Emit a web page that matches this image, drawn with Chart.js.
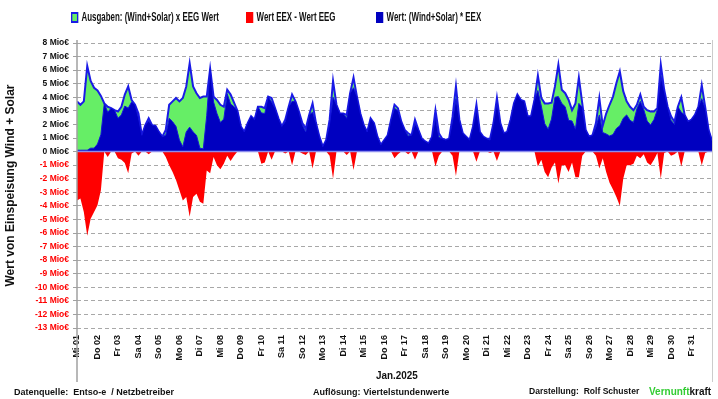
<!DOCTYPE html>
<html lang="de">
<head>
<meta charset="utf-8">
<title>Wert von Einspeisung Wind + Solar - Jan.2025</title>
<script src="https://cdn.jsdelivr.net/npm/chart.js@4.4.1/dist/chart.umd.min.js"></script>
<style>
    html, body { margin: 0; padding: 0; background: #fff; }
    body { width: 718px; height: 399px; position: relative; overflow: hidden;
           font-family: 'Liberation Sans', Arial, sans-serif; font-weight: bold; color: #111; }
    #chartBox { position: absolute; left: 0; top: 0; width: 718px; height: 399px; }
    .txt { position: absolute; white-space: nowrap; transform-origin: 0 50%; }
    .legend { top: 10px; font-size: 12px; transform: scaleX(0.66); display: flex; align-items: center; }
    .legend .box { display: inline-block; width: 11px; height: 11px; margin-right: 5px; box-sizing: border-box; }
    .footer { top: 386px; font-size: 9.5px; transform: scaleX(0.95); }
    .xtitle { top: 369px; left: 376px; font-size: 11px; transform: scaleX(0.9); }
</style>
</head>
<body>
<div id="chartBox"><canvas id="eegChart" width="718" height="399"></canvas></div>

<div class="txt legend" style="left:71px"><span class="box" style="background:#66ee66;border:2px solid #1a1ae6"></span>Ausgaben: (Wind+Solar) x EEG Wert</div>
<div class="txt legend" style="left:246px"><span class="box" style="background:#ff0000"></span>Wert EEX - Wert EEG</div>
<div class="txt legend" style="left:376px"><span class="box" style="background:#0000c0"></span>Wert: (Wind+Solar) * EEX</div>
<div class="txt xtitle">Jan.2025</div>
<div class="txt footer" style="left:14px">Datenquelle:&nbsp; Entso-e &nbsp;/ Netzbetreiber</div>
<div class="txt footer" style="left:313px">Auflösung: Viertelstundenwerte</div>
<div class="txt footer" style="left:529px;font-size:9px">Darstellung:&nbsp; Rolf Schuster</div>
<div class="txt footer" style="left:649px;font-size:10.5px;top:385px"><span style="color:#33cc33">Vernunft</span>kraft</div>

<script>
// --- DATA (Mio €, one value every 4 hours, 01.01. 00:00 - 01.02. 00:00) ---
const SLOTS_PER_DAY = 6;

const tage = ['Mi 01', 'Do 02', 'Fr 03', 'Sa 04', 'So 05', 'Mo 06', 'Di 07', 'Mi 08', 'Do 09', 'Fr 10',
              'Sa 11', 'So 12', 'Mo 13', 'Di 14', 'Mi 15', 'Do 16', 'Fr 17', 'Sa 18', 'So 19', 'Mo 20',
              'Di 21', 'Mi 22', 'Do 23', 'Fr 24', 'Sa 25', 'So 26', 'Mo 27', 'Di 28', 'Mi 29', 'Do 30', 'Fr 31'];

// Ausgaben: (Wind+Solar) x EEG Wert
const eegWert = [
    3.7, 3.45, 3.7, 6.3, 5.2, 4.7,      4.5, 4.1, 3.55, 3.3, 3.2, 3.05,
    2.95, 3.3, 4.2, 4.8, 3.8, 3.45,     2.8, 1.2, 1.95, 2.45, 1.95, 1.9,
    1.45, 1.1, 1.6, 3.45, 3.7, 3.95,    3.7, 3.95, 4.8, 6.5, 4.8, 4.3,
    3.95, 4.05, 4.05, 6.1, 4.05, 3.8,   3.45, 3.3, 4.55, 4.2, 3.6, 3.0,
    1.85, 1.45, 2.1, 2.6, 2.35, 3.3,    3.3, 3.2, 4.05, 3.95, 3.2, 2.45,
    1.85, 2.35, 3.3, 4.2, 3.7, 2.95,    2.1, 1.7, 2.7, 3.55, 2.1, 1.1,
    0.36, 0.85, 2.35, 5.2, 3.45, 2.8,   2.8, 2.7, 4.3, 5.45, 4.05, 2.8,
    1.95, 1.45, 2.45, 2.1, 1.1, 0.5,    0.85, 1.2, 2.35, 3.45, 3.2, 2.2,
    1.6, 1.35, 1.2, 2.35, 1.6, 0.95,    0.75, 0.6, 1.1, 3.05, 1.35, 0.95,
    0.85, 0.95, 2.55, 4.8, 2.35, 1.35,  1.1, 0.85, 1.85, 3.45, 1.45, 1.1,
    0.95, 0.95, 2.1, 3.95, 2.1, 1.35,   1.45, 2.35, 3.55, 4.2, 3.8, 3.7,
    2.6, 2.6, 3.8, 5.6, 3.95, 3.55,     3.55, 3.6, 4.8, 6.4, 4.55, 4.3,
    3.8, 3.05, 3.55, 5.45, 3.55, 1.6,   1.1, 1.2, 2.1, 3.95, 1.9, 2.8,
    3.45, 4.05, 5.05, 5.9, 4.45, 3.7,   3.3, 3.05, 3.45, 4.2, 3.3, 3.05,
    2.95, 2.95, 3.2, 6.4, 4.55, 3.3,    2.6, 2.2, 3.3, 4.0, 2.7, 2.2,
    2.35, 2.7, 3.3, 4.9, 3.3, 1.6,      0.8
];

// Wert: (Wind+Solar) * EEX
const marktWert = [
    0.1, 0.1, 0.1, 0.1, 0.25, 0.25,     0.55, 1.25, 3.55, 2.9, 3.2, 3.05,
    2.45, 2.7, 3.35, 3.2, 3.65, 3.45,   2.5, 1.2, 1.95, 2.25, 1.95, 1.9,
    1.45, 1.1, 1.2, 2.45, 2.2, 1.85,    0.85, 0.35, 1.45, 1.8, 1.45, 1.2,
    0.25, 0.2, 2.65, 6.1, 3.65, 2.8,    2.15, 2.4, 4.25, 3.5, 3.3, 3.0,
    1.85, 1.45, 2.1, 2.6, 2.35, 3.3,    2.85, 2.8, 4.05, 3.65, 3.2, 2.45,
    1.85, 2.2, 3.3, 3.7, 3.7, 2.95,     1.95, 1.45, 2.7, 2.9, 2.1, 1.1,
    0.36, 0.85, 2.05, 4.0, 3.45, 2.8,   2.8, 2.45, 4.3, 4.7, 4.05, 2.8,
    1.95, 1.45, 2.45, 2.1, 1.1, 0.5,    0.85, 1.2, 2.35, 3.2, 3.0, 2.2,
    1.6, 1.15, 1.2, 2.05, 1.6, 0.95,    0.75, 0.6, 1.1, 2.5, 1.05, 0.95,
    0.85, 0.95, 2.25, 3.9, 2.35, 1.35,  1.1, 0.85, 1.85, 3.1, 1.45, 1.1,
    0.95, 0.85, 2.1, 3.6, 2.1, 1.35,    1.45, 2.35, 3.55, 4.2, 3.8, 3.7,
    2.6, 2.6, 3.8, 4.5, 3.35, 2.05,     1.65, 2.4, 4.0, 4.05, 3.55, 3.3,
    2.3, 2.25, 1.65, 3.55, 3.25, 1.6,   1.1, 1.2, 1.8, 2.7, 1.4, 1.3,
    1.15, 1.25, 1.7, 1.9, 2.45, 2.7,    2.3, 2.15, 3.15, 3.7, 3.1, 2.25,
    1.95, 2.35, 3.1, 5.6, 4.45, 3.3,    2.3, 2.0, 3.3, 2.9, 2.7, 2.2,
    2.35, 2.7, 3.3, 3.9, 3.2, 1.6,      0.8
];

// Wert EEX - Wert EEG (nur negative Anteile)
const differenz = [
    -3.6, -3.45, -4.45, -6.2, -4.95, -4.45,  -3.95, -2.85, 0, -0.4, 0, 0,
    -0.5, -0.6, -0.85, -1.6, -0.15, 0,       -0.3, 0, 0, -0.2, 0, 0,
    0, 0, -0.4, -1.0, -1.5, -2.1,            -2.85, -3.6, -3.35, -4.8, -3.35, -3.1,
    -3.7, -3.85, -1.4, -1.6, -0.4, -1.0,     -1.3, -0.9, -0.3, -0.7, -0.3, 0,
    0, 0, 0, 0, 0, 0,                        -0.9, -0.8, 0, -0.6, 0, 0,
    0, -0.15, 0, -1.0, 0, 0,                 -0.15, -0.25, 0, -1.25, 0, 0,
    0, 0, -0.3, -2.0, 0, 0,                  0, -0.25, 0, -1.35, 0, 0,
    0, 0, 0, 0, 0, 0,                        0, 0, 0, -0.5, -0.2, 0,
    0, -0.2, 0, -0.6, 0, 0,                  0, 0, 0, -1.1, -0.3, 0,
    0, 0, -0.3, -1.8, 0, 0,                  0, 0, 0, -0.75, 0, 0,
    0, -0.1, 0, -0.7, 0, 0,                  0, 0, 0, 0, 0, 0,
    0, 0, 0, -1.1, -0.6, -1.5,               -1.9, -1.2, -0.8, -2.35, -1.0, -1.0,
    -1.5, -0.8, -1.9, -1.9, -0.3, 0,         0, 0, -0.3, -1.25, -0.5, -1.5,
    -2.3, -2.8, -3.35, -4.0, -2.0, -1.0,     -1.0, -0.9, -0.3, -0.5, -0.2, -0.8,
    -1.0, -0.6, -0.1, -2.0, -0.1, 0,         -0.3, -0.2, 0, -1.1, 0, 0,
    0, 0, 0, -1.0, -0.1, 0,                  0
];

const yTicks = { min: -13, max: 8, step: 1 };

// --- HELPERS ---
const FONT = "'Liberation Sans', Arial, sans-serif";
const toPoints = arr => arr.map((v, i) => ({ x: i / SLOTS_PER_DAY, y: v }));

// axis lines run down through the label area, plus the light zero line
const axisLines = {
    id: 'axisLines',
    afterDatasetsDraw(chart) {
        const { ctx, chartArea, scales } = chart;
        const y0 = scales.y.getPixelForValue(0);
        ctx.save();
        ctx.strokeStyle = '#8c8cee';
        ctx.lineWidth = 1.5;
        ctx.beginPath(); ctx.moveTo(chartArea.left, y0); ctx.lineTo(chartArea.right, y0); ctx.stroke();
        ctx.strokeStyle = '#a0a0a0';
        ctx.lineWidth = 1.5;
        ctx.beginPath(); ctx.moveTo(chartArea.left, chartArea.top - 3); ctx.lineTo(chartArea.left, 382); ctx.stroke();
        ctx.strokeStyle = '#cccccc';
        ctx.lineWidth = 1;
        ctx.beginPath(); ctx.moveTo(chartArea.right + 0.5, chartArea.top - 3); ctx.lineTo(chartArea.right + 0.5, 382); ctx.stroke();
        ctx.restore();
    }
};

// --- CHART ---
const eegChart = new Chart(document.getElementById('eegChart'), {
    type: 'line',
    data: {
        datasets: [
            {
                label: 'Wert: (Wind+Solar) * EEX',
                data: toPoints(marktWert),
                backgroundColor: '#0000c0',
                borderColor: '#1414dc',
                borderWidth: 1,
                fill: 'origin',
                order: 1,
            },
            {
                label: 'Ausgaben: (Wind+Solar) x EEG Wert',
                data: toPoints(eegWert),
                backgroundColor: '#66ee66',
                borderColor: '#1a1ae6',
                borderWidth: 2,
                fill: 'origin',
                order: 2,
            },
            {
                label: 'Wert EEX - Wert EEG',
                data: toPoints(differenz),
                backgroundColor: '#ff0000',
                borderColor: '#ff0000',
                borderWidth: 0,
                fill: 'origin',
                order: 3,
            },
        ],
    },
    options: {
        responsive: false,
        animation: false,
        events: [],
        elements: { point: { radius: 0 }, line: { tension: 0 } },
        layout: { padding: { left: 0, right: 6, top: 43, bottom: 0 } },
        plugins: { legend: { display: false }, tooltip: { enabled: false } },
        scales: {
            x: {
                type: 'linear',
                min: 0,
                max: tage.length,
                grid: { display: false, drawTicks: false },
                border: { display: false },
                ticks: {
                    stepSize: 1,
                    autoSkip: false,
                    maxRotation: 90,
                    minRotation: 90,
                    padding: 7,
                    color: '#111',
                    font: { family: FONT, size: 9, weight: 'bold' },
                    callback: v => tage[v] ?? '',
                },
                afterFit(scale) {
                    scale.height = 71;
                    scale.paddingLeft = 0;
                    scale.paddingRight = 0;
                },
            },
            y: {
                min: yTicks.min,
                max: yTicks.max,
                grid: { color: '#a8a8a8', lineWidth: 1, tickLength: 4, tickColor: '#a0a0a0' },
                border: { display: false, dash: [4, 3] },
                ticks: {
                    stepSize: yTicks.step,
                    autoSkip: false,
                    padding: 4,
                    color: ctx => ctx.tick.value < 0 ? '#ff0000' : '#111',
                    font: { family: FONT, size: 8.5, weight: 'bold' },
                    callback: v => `${v} Mio€`,
                },
                title: {
                    display: true,
                    text: 'Wert von Einspeisung Wind + Solar',
                    color: '#111',
                    padding: { top: 3, bottom: 0 },
                    font: { family: FONT, size: 12, weight: 'bold' },
                },
                afterFit(scale) { scale.width = 77; },
            },
        },
    },
    plugins: [axisLines],
});
</script>
</body>
</html>
